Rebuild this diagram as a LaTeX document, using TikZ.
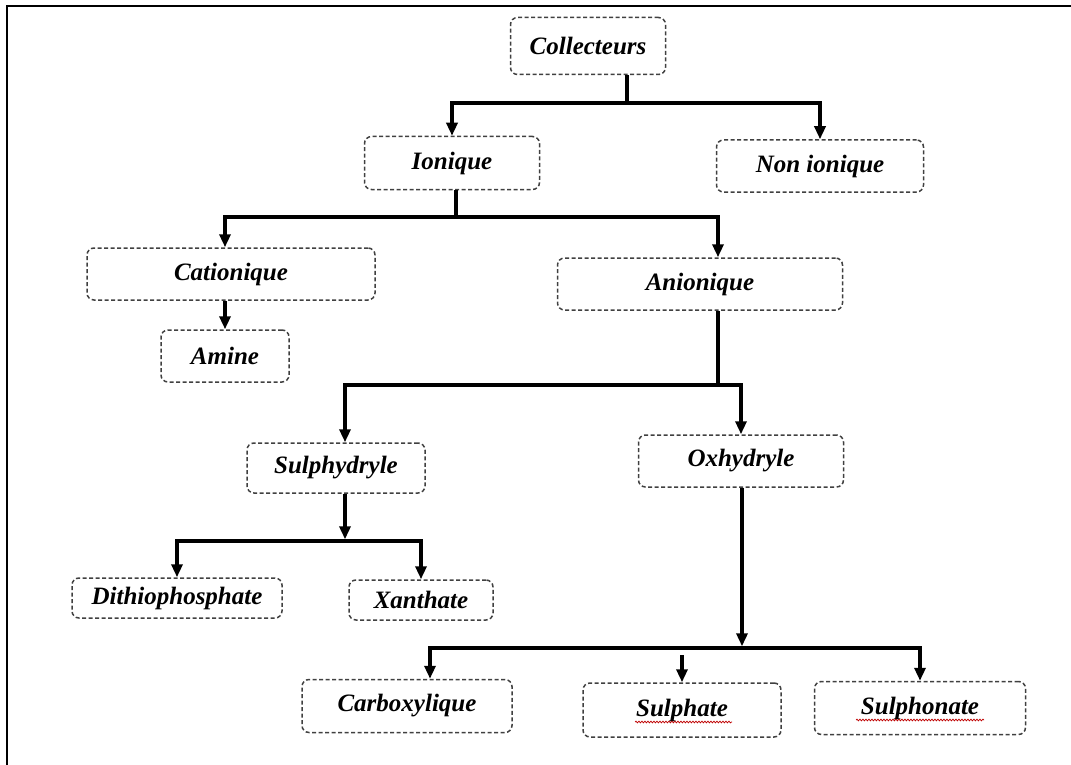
\documentclass[tikz,border=0pt]{standalone}
\usepackage{fontspec}
\setmainfont{Liberation Serif}
\usetikzlibrary{arrows.meta,decorations.pathmorphing}
\begin{document}
\begin{tikzpicture}[x=1pt,y=-1pt,
  box/.style={draw=black!75, dash pattern=on 4pt off 2.5pt, line width=1.5pt,
    rounded corners=7pt, inner sep=0pt, fill=white,
    font=\fontsize{25}{29}\selectfont\bfseries\itshape},
  arr/.style={line width=3.4pt, -{Triangle[length=13pt,width=11pt]}},
  ln/.style={line width=3.4pt},
  wavy/.style={draw=red!75!black, line width=0.7pt, decorate,
    decoration={snake, amplitude=0.9pt, segment length=3pt}}]
\useasboundingbox (0,0) rectangle (1071,765);
\draw[line width=2.4pt] (7,765) -- (7,6) -- (1071,6);

% nodes
\node[box, minimum width=155pt, minimum height=57pt] (col) at (588,46) {Collecteurs};
\node[box, minimum width=175pt, minimum height=53pt] (ion) at (452,163) {Ionique};
\node[box, minimum width=207pt, minimum height=52pt] (non) at (820,166) {Non ionique};
\node[box, minimum width=288pt, minimum height=52pt] (cat) at (231,274) {Cationique};
\node[box, minimum width=128pt, minimum height=52pt] (ami) at (225,356) {Amine};
\node[box, minimum width=285pt, minimum height=52pt] (ani) at (700,284) {Anionique};
\node[box, minimum width=178pt, minimum height=50pt] (sul) at (336,468) {Sulphydryle};
\node[box, minimum width=205pt, minimum height=52pt] (oxh) at (741,461) {Oxhydryle};
\node[box, minimum width=210pt, minimum height=40pt] (dit) at (177,598) {Dithiophosphate};
\node[box, minimum width=144pt, minimum height=40pt] (xan) at (421,600) {Xanthate};
\node[box, minimum width=210pt, minimum height=53pt] (car) at (407,706) {Carboxylique};
\node[box, minimum width=198pt, minimum height=54pt] (sph) at (682,710) {Sulphate};
\node[box, minimum width=211pt, minimum height=53pt] (spn) at (920,708) {Sulphonate};

% spell-check underlines
\draw[wavy] ([xshift=-47pt,yshift=-12pt]sph.center) -- ([xshift=50pt,yshift=-12pt]sph.center);
\draw[wavy] ([xshift=-64pt,yshift=-12pt]spn.center) -- ([xshift=64pt,yshift=-12pt]spn.center);

% branch points
\coordinate (b1) at (627,103);
\coordinate (b2) at (456,217);
\coordinate (b4) at (718,385);
\coordinate (b5) at (345,541);
\coordinate (b6) at (742,648);

% connectors
\draw[ln] (col.south -| b1) -- (b1);
\draw[arr] (b1) -| (ion);
\draw[arr] (b1) -| (non);

\draw[ln] (ion.south -| b2) -- (b2);
\draw[arr] (b2) -| ([xshift=-6pt]cat.north);
\draw[arr] (b2) -| ([xshift=18pt]ani.north);

\draw[arr] (cat.south -| ami) -- (ami);

\draw[ln] (ani.south -| b4) -- (b4);
\draw[arr] (b4) -| ([xshift=9pt]sul.north);
\draw[arr] (b4) -| (oxh);

\draw[arr] (sul.south -| b5) -- ([yshift=1.7pt]b5);
\draw[arr] (b5) -| (dit);
\draw[arr] (b5) -| (xan);

\draw[arr] (oxh.south -| b6) -- ([yshift=1.7pt]b6);
\draw[arr] (b6) -| ([xshift=23pt]car.north);
\draw[arr] (b6) -| (spn);
\draw[arr] ([yshift=-7pt]b6 -| sph) -- (sph);
\end{tikzpicture}
\end{document}
